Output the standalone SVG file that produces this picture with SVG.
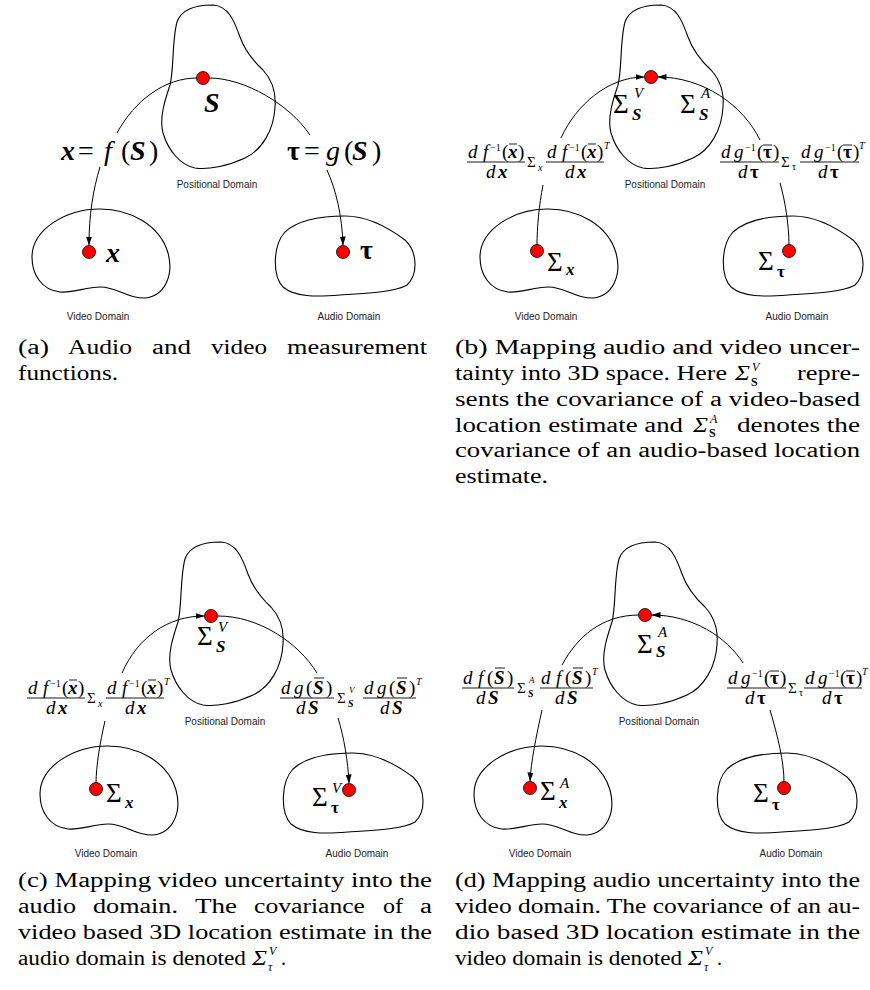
<svg xmlns="http://www.w3.org/2000/svg" xmlns:xlink="http://www.w3.org/1999/xlink" width="870" height="990" viewBox="0 0 870 990">
<style>
.s{font-family:"Liberation Serif","Times New Roman",serif;fill:#000}
.f{font-size:19px}
.sm{font-size:10px}
.sg{font-size:15px}
.big{font-size:27px}
.sup{font-size:15px}
.i{font-style:italic}
.bi{font-style:italic;font-weight:bold}
.b{font-weight:bold}
.n{font-style:normal}
.lbl{font-family:"Liberation Sans",Arial,sans-serif;font-size:10px;fill:#222;text-anchor:middle}
.blob{fill:none;stroke:#000;stroke-width:1.1}
.c{fill:none;stroke:#000;stroke-width:1}
.dot{fill:#ff0000;stroke:#000;stroke-width:0.8}
.fl{stroke:#000;stroke-width:0.9}
.cap{font-family:"Liberation Serif","Times New Roman",serif;font-size:20px;fill:#000}
.cs{font-family:"Liberation Serif","Times New Roman",serif;font-size:12px;fill:#000}
</style>
<defs>
<path id="pos" d="M213,5 C228,6 234,20 240,37 C244,48 250,58 263,70 C274,82 276,95 275,107 C274,130 262,150 245,158 C228,166 208,170 195,168 C180,165 168,150 163,133 C159,118 165,100 170,85 C174,70 172,40 177,22 C181,10 195,5 213,5 Z"/>
<path id="vid" d="M100,209 C130,209 160,225 168,253 C174,275 165,296 145,298 C128,299 118,287 100,287 C85,287 75,293 60,292 C42,290 32,275 32,257 C32,230 65,209 100,209 Z"/>
<path id="aud" d="M345,216 C365,216 385,225 405,240 C418,252 418,275 407,285 C395,292 370,293 340,295 C315,297 295,297 283,287 C272,275 273,245 285,232 C298,220 320,216 345,216 Z"/>
<marker id="ah" markerWidth="9" markerHeight="7" refX="8.5" refY="3.5" orient="auto" markerUnits="userSpaceOnUse"><path d="M0,0.5 L9,3.5 L0,6.5 Z" fill="#000"/></marker>
</defs>

<!-- Panel (a) -->
<g id="panel-a">
 <g id="a-positional">
  <use xlink:href="#pos" href="#pos" class="blob"/>
  <circle class="dot" cx="203" cy="78" r="6.5"/>
  <text class="s bi" font-size="28" x="204" y="112">S</text>
  <text class="lbl" x="217" y="188">Positional Domain</text>
 </g>
 <g id="a-video">
  <use xlink:href="#vid" href="#vid" class="blob"/>
  <circle class="dot" cx="89" cy="252" r="6.5"/>
  <text class="s bi" font-size="28" x="106" y="262">x</text>
  <text class="lbl" x="98" y="320">Video Domain</text>
 </g>
 <g id="a-audio">
  <use xlink:href="#aud" href="#aud" class="blob"/>
  <circle class="dot" cx="343" cy="252" r="6.5"/>
  <text class="s b" font-size="28" x="360" y="259">τ</text>
  <text class="lbl" x="349" y="320">Audio Domain</text>
 </g>
 <g id="a-connectors">
  <path class="c" d="M117,133 C135,100 165,78 197,78"/>
  <path class="c" d="M209,78 C245,78 290,105 310,135"/>
  <path class="c" d="M100,167 C93,190 89,215 89,245" marker-end="url(#ah)"/>
  <path class="c" d="M327,170 C336,190 342,215 343,245" marker-end="url(#ah)"/>
  <text class="s" font-size="28" y="160"><tspan class="bi" x="61">x</tspan><tspan x="78">=</tspan><tspan class="i" x="104">f</tspan><tspan x="121">(</tspan><tspan class="bi" x="130">S</tspan><tspan x="149">)</tspan></text>
  <text class="s" font-size="28" y="160"><tspan class="b" x="287">τ</tspan><tspan x="304">=</tspan><tspan class="i" x="326">g</tspan><tspan x="344">(</tspan><tspan class="bi" x="352">S</tspan><tspan x="372">)</tspan></text>
 </g>
</g>

<!-- Panel (b) -->
<g id="panel-b" transform="translate(448,0)">
 <g id="b-positional">
  <use xlink:href="#pos" href="#pos" class="blob"/>
  <circle class="dot" cx="203" cy="77" r="6.5"/>
  <text class="s"><tspan class="big" x="165" y="113">Σ</tspan><tspan class="i sup" x="186" y="98">V</tspan><tspan class="bi" font-size="17" x="184" y="120">S</tspan></text>
  <text class="s"><tspan class="big" x="232" y="113">Σ</tspan><tspan class="i sup" x="253" y="98">A</tspan><tspan class="bi" font-size="17" x="251" y="120">S</tspan></text>
  <text class="lbl" x="217" y="188">Positional Domain</text>
 </g>
 <g id="b-video">
  <use xlink:href="#vid" href="#vid" class="blob"/>
  <circle class="dot" cx="89" cy="251" r="6.5"/>
  <text class="s"><tspan class="big" x="99" y="271">Σ</tspan><tspan class="bi" font-size="17" x="118" y="275">x</tspan></text>
  <text class="lbl" x="98" y="320">Video Domain</text>
 </g>
 <g id="b-audio">
  <use xlink:href="#aud" href="#aud" class="blob"/>
  <circle class="dot" cx="341" cy="251" r="6.5"/>
  <text class="s"><tspan class="big" x="310" y="270">Σ</tspan><tspan class="b" font-size="17" x="329" y="277">τ</tspan></text>
  <text class="lbl" x="349" y="320">Audio Domain</text>
 </g>
 <g id="b-connectors">
  <path class="c" d="M113,138 C128,105 160,77 196,77" marker-end="url(#ah)"/>
  <path class="c" d="M312,140 C295,105 255,77 210,77" marker-end="url(#ah)"/>
  <path class="c" d="M95,185 C91,205 89,228 89,245"/>
  <path class="c" d="M332,183 C337,200 341,225 341,245"/>
  <text class="s f" y="158"><tspan class="i" x="20">d</tspan><tspan class="i" x="35">f</tspan><tspan class="sm" x="42" y="151">−1</tspan><tspan x="54" y="158">(</tspan><tspan class="bi" x="60">x</tspan><tspan x="70">)</tspan></text>
  <line class="fl" x1="61" y1="144" x2="69" y2="144"/>
  <line class="fl" x1="19" y1="162" x2="77" y2="162"/>
  <text class="s f" y="178"><tspan class="i" x="38">d</tspan><tspan class="bi" x="50">x</tspan></text>
  <text class="s"><tspan class="sg" x="79" y="167">Σ</tspan><tspan class="sm i" x="90" y="171">x</tspan></text>
  <text class="s f" y="158"><tspan class="i" x="99">d</tspan><tspan class="i" x="114">f</tspan><tspan class="sm" x="121" y="151">−1</tspan><tspan x="133" y="158">(</tspan><tspan class="bi" x="139">x</tspan><tspan x="149">)</tspan><tspan class="sm i" x="156" y="149">T</tspan></text>
  <line class="fl" x1="140" y1="144" x2="148" y2="144"/>
  <line class="fl" x1="98" y1="162" x2="156" y2="162"/>
  <text class="s f" y="178"><tspan class="i" x="117">d</tspan><tspan class="bi" x="129">x</tspan></text>
  <text class="s f" y="158"><tspan class="i" x="273">d</tspan><tspan class="i" x="286">g</tspan><tspan class="sm" x="297" y="151">−1</tspan><tspan x="309" y="158">(</tspan><tspan class="b" x="315">τ</tspan><tspan x="325">)</tspan></text>
  <line class="fl" x1="315" y1="145" x2="324" y2="145"/>
  <line class="fl" x1="272" y1="162" x2="331" y2="162"/>
  <text class="s f" y="178"><tspan class="i" x="290">d</tspan><tspan class="b" x="302">τ</tspan></text>
  <text class="s"><tspan class="sg" x="333" y="167">Σ</tspan><tspan class="sm" x="344" y="170">τ</tspan></text>
  <text class="s f" y="158"><tspan class="i" x="353">d</tspan><tspan class="i" x="366">g</tspan><tspan class="sm" x="377" y="151">−1</tspan><tspan x="389" y="158">(</tspan><tspan class="b" x="395">τ</tspan><tspan x="405">)</tspan><tspan class="sm i" x="411" y="149">T</tspan></text>
  <line class="fl" x1="395" y1="145" x2="404" y2="145"/>
  <line class="fl" x1="352" y1="162" x2="411" y2="162"/>
  <text class="s f" y="178"><tspan class="i" x="370">d</tspan><tspan class="b" x="382">τ</tspan></text>
 </g>
</g>

<!-- Panel (c) -->
<g id="panel-c" transform="translate(8,537)">
 <g id="c-positional">
  <use xlink:href="#pos" href="#pos" class="blob"/>
  <circle class="dot" cx="203" cy="79" r="6.5"/>
  <text class="s"><tspan class="big" x="189" y="108">Σ</tspan><tspan class="i sup" x="210" y="95">V</tspan><tspan class="bi" font-size="17" x="208" y="115">S</tspan></text>
  <text class="lbl" x="217" y="188">Positional Domain</text>
 </g>
 <g id="c-video">
  <use xlink:href="#vid" href="#vid" class="blob"/>
  <circle class="dot" cx="88" cy="252" r="6.5"/>
  <text class="s"><tspan class="big" x="98" y="265">Σ</tspan><tspan class="bi" font-size="17" x="117" y="271">x</tspan></text>
  <text class="lbl" x="98" y="320">Video Domain</text>
 </g>
 <g id="c-audio">
  <use xlink:href="#aud" href="#aud" class="blob"/>
  <circle class="dot" cx="341" cy="253" r="6.5"/>
  <text class="s"><tspan class="big" x="304" y="269">Σ</tspan><tspan class="i sup" x="324" y="256">V</tspan><tspan class="b" font-size="17" x="323" y="276">τ</tspan></text>
  <text class="lbl" x="349" y="320">Audio Domain</text>
 </g>
 <g id="c-connectors">
  <path class="c" d="M114,136 C130,100 160,79 196,79" marker-end="url(#ah)"/>
  <path class="c" d="M210,79 C250,79 290,105 309,136"/>
  <path class="c" d="M97,184 C92,205 88,230 88,246"/>
  <path class="c" d="M330,181 C336,200 340,225 341,246" marker-end="url(#ah)"/>
  <text class="s f" y="157"><tspan class="i" x="20">d</tspan><tspan class="i" x="35">f</tspan><tspan class="sm" x="42" y="150">−1</tspan><tspan x="54" y="157">(</tspan><tspan class="bi" x="60">x</tspan><tspan x="70">)</tspan></text>
  <line class="fl" x1="61" y1="143" x2="69" y2="143"/>
  <line class="fl" x1="19" y1="161" x2="77" y2="161"/>
  <text class="s f" y="177"><tspan class="i" x="38">d</tspan><tspan class="bi" x="50">x</tspan></text>
  <text class="s"><tspan class="sg" x="79" y="166">Σ</tspan><tspan class="sm i" x="90" y="170">x</tspan></text>
  <text class="s f" y="157"><tspan class="i" x="99">d</tspan><tspan class="i" x="114">f</tspan><tspan class="sm" x="121" y="150">−1</tspan><tspan x="133" y="157">(</tspan><tspan class="bi" x="139">x</tspan><tspan x="149">)</tspan><tspan class="sm i" x="156" y="148">T</tspan></text>
  <line class="fl" x1="140" y1="143" x2="148" y2="143"/>
  <line class="fl" x1="98" y1="161" x2="156" y2="161"/>
  <text class="s f" y="177"><tspan class="i" x="117">d</tspan><tspan class="bi" x="129">x</tspan></text>
  <text class="s f" y="157"><tspan class="i" x="273">d</tspan><tspan class="i" x="286">g</tspan><tspan x="298">(</tspan><tspan class="bi" x="305">S</tspan><tspan x="318">)</tspan></text>
  <line class="fl" x1="306" y1="141" x2="316" y2="141"/>
  <line class="fl" x1="272" y1="161" x2="326" y2="161"/>
  <text class="s f" y="177"><tspan class="i" x="288">d</tspan><tspan class="bi" x="300">S</tspan></text>
  <text class="s"><tspan class="sg" x="329" y="166">Σ</tspan><tspan class="i" font-size="9" x="341" y="156">V</tspan><tspan class="bi" font-size="10" x="340" y="170">S</tspan></text>
  <text class="s f" y="157"><tspan class="i" x="356">d</tspan><tspan class="i" x="369">g</tspan><tspan x="381">(</tspan><tspan class="bi" x="388">S</tspan><tspan x="401">)</tspan><tspan class="sm i" x="408" y="148">T</tspan></text>
  <line class="fl" x1="389" y1="141" x2="399" y2="141"/>
  <line class="fl" x1="355" y1="161" x2="408" y2="161"/>
  <text class="s f" y="177"><tspan class="i" x="372">d</tspan><tspan class="bi" x="384">S</tspan></text>
 </g>
</g>

<!-- Panel (d) -->
<g id="panel-d" transform="translate(442,537)">
 <g id="d-positional">
  <use xlink:href="#pos" href="#pos" class="blob"/>
  <circle class="dot" cx="203" cy="78" r="6.5"/>
  <text class="s"><tspan class="big" x="195" y="116">Σ</tspan><tspan class="i sup" x="216" y="100">A</tspan><tspan class="bi" font-size="17" x="214" y="120">S</tspan></text>
  <text class="lbl" x="217" y="188">Positional Domain</text>
 </g>
 <g id="d-video">
  <use xlink:href="#vid" href="#vid" class="blob"/>
  <circle class="dot" cx="88" cy="251" r="6.5"/>
  <text class="s"><tspan class="big" x="98" y="263">Σ</tspan><tspan class="i sup" x="118" y="251">A</tspan><tspan class="bi" font-size="17" x="117" y="271">x</tspan></text>
  <text class="lbl" x="98" y="320">Video Domain</text>
 </g>
 <g id="d-audio">
  <use xlink:href="#aud" href="#aud" class="blob"/>
  <circle class="dot" cx="342" cy="251" r="6.5"/>
  <text class="s"><tspan class="big" x="311" y="265">Σ</tspan><tspan class="b" font-size="17" x="330" y="273">τ</tspan></text>
  <text class="lbl" x="349" y="320">Audio Domain</text>
 </g>
 <g id="d-connectors">
  <path class="c" d="M197,78 C160,78 135,100 120,128"/>
  <path class="c" d="M301,126 C285,100 250,78 210,78" marker-end="url(#ah)"/>
  <path class="c" d="M100,173 C94,200 89,225 88,244" marker-end="url(#ah)"/>
  <path class="c" d="M328,173 C336,200 342,225 342,245"/>
  <text class="s f" y="147"><tspan class="i" x="21">d</tspan><tspan class="i" x="36">f</tspan><tspan x="45">(</tspan><tspan class="bi" x="52">S</tspan><tspan x="65">)</tspan></text>
  <line class="fl" x1="53" y1="131" x2="63" y2="131"/>
  <line class="fl" x1="20" y1="151" x2="72" y2="151"/>
  <text class="s f" y="167"><tspan class="i" x="34">d</tspan><tspan class="bi" x="46">S</tspan></text>
  <text class="s"><tspan class="sg" x="75" y="156">Σ</tspan><tspan class="i" font-size="9" x="87" y="146">A</tspan><tspan class="bi" font-size="10" x="86" y="160">S</tspan></text>
  <text class="s f" y="147"><tspan class="i" x="99">d</tspan><tspan class="i" x="114">f</tspan><tspan x="123">(</tspan><tspan class="bi" x="130">S</tspan><tspan x="143">)</tspan><tspan class="sm i" x="150" y="138">T</tspan></text>
  <line class="fl" x1="131" y1="131" x2="141" y2="131"/>
  <line class="fl" x1="98" y1="151" x2="151" y2="151"/>
  <text class="s f" y="167"><tspan class="i" x="113">d</tspan><tspan class="bi" x="125">S</tspan></text>
  <text class="s f" y="147"><tspan class="i" x="286">d</tspan><tspan class="i" x="299">g</tspan><tspan class="sm" x="310" y="140">−1</tspan><tspan x="322" y="147">(</tspan><tspan class="b" x="328">τ</tspan><tspan x="338">)</tspan></text>
  <line class="fl" x1="328" y1="134" x2="337" y2="134"/>
  <line class="fl" x1="285" y1="151" x2="344" y2="151"/>
  <text class="s f" y="167"><tspan class="i" x="303">d</tspan><tspan class="b" x="315">τ</tspan></text>
  <text class="s"><tspan class="sg" x="346" y="156">Σ</tspan><tspan class="sm" x="357" y="159">τ</tspan></text>
  <text class="s f" y="147"><tspan class="i" x="363">d</tspan><tspan class="i" x="376">g</tspan><tspan class="sm" x="387" y="140">−1</tspan><tspan x="398" y="147">(</tspan><tspan class="b" x="404">τ</tspan><tspan x="414">)</tspan><tspan class="sm i" x="420" y="138">T</tspan></text>
  <line class="fl" x1="404" y1="134" x2="413" y2="134"/>
  <line class="fl" x1="362" y1="151" x2="420" y2="151"/>
  <text class="s f" y="167"><tspan class="i" x="380">d</tspan><tspan class="b" x="392">τ</tspan></text>
 </g>
</g>

<!-- Captions -->
<g id="captions">
 <text class="cap" y="354" lengthAdjust="spacingAndGlyphs" x="18" textLength="31">(a)</text>
 <text class="cap" y="354" lengthAdjust="spacingAndGlyphs" x="68" textLength="64">Audio</text>
 <text class="cap" y="354" lengthAdjust="spacingAndGlyphs" x="152" textLength="39">and</text>
 <text class="cap" y="354" lengthAdjust="spacingAndGlyphs" x="211" textLength="56">video</text>
 <text class="cap" y="354" lengthAdjust="spacingAndGlyphs" x="287" textLength="140">measurement</text>
 <text class="cap" y="380" lengthAdjust="spacingAndGlyphs" x="18" textLength="100">functions.</text>

 <text class="cap" y="354" x="455" textLength="405" lengthAdjust="spacingAndGlyphs">(b) Mapping audio and video uncer-</text>
 <text class="cap" y="380" x="455" textLength="272" lengthAdjust="spacingAndGlyphs">tainty into 3D space. Here</text>
 <text class="cap i" x="735" y="380" textLength="15" lengthAdjust="spacingAndGlyphs">Σ</text>
 <text class="cs i" x="752" y="371">V</text>
 <text class="cs b" x="751" y="386">S</text>
 <text class="cap" y="380" x="797" textLength="63" lengthAdjust="spacingAndGlyphs">repre-</text>
 <text class="cap" y="406" x="455" textLength="405" lengthAdjust="spacingAndGlyphs">sents the covariance of a video-based</text>
 <text class="cap" y="432" x="455" textLength="228" lengthAdjust="spacingAndGlyphs">location estimate and</text>
 <text class="cap i" x="693" y="432" textLength="15" lengthAdjust="spacingAndGlyphs">Σ</text>
 <text class="cs i" x="710" y="423">A</text>
 <text class="cs b" x="709" y="437">S</text>
 <text class="cap" y="432" x="737" textLength="123" lengthAdjust="spacingAndGlyphs">denotes the</text>
 <text class="cap" y="457" x="455" textLength="405" lengthAdjust="spacingAndGlyphs">covariance of an audio-based location</text>
 <text class="cap" y="483" x="455" textLength="93" lengthAdjust="spacingAndGlyphs">estimate.</text>

 <text class="cap" y="887" x="18" textLength="414" lengthAdjust="spacingAndGlyphs">(c) Mapping video uncertainty into the</text>
 <text class="cap" y="913" lengthAdjust="spacingAndGlyphs" x="18" textLength="58">audio</text>
 <text class="cap" y="913" lengthAdjust="spacingAndGlyphs" x="93" textLength="85">domain.</text>
 <text class="cap" y="913" lengthAdjust="spacingAndGlyphs" x="195" textLength="42">The</text>
 <text class="cap" y="913" lengthAdjust="spacingAndGlyphs" x="254" textLength="111">covariance</text>
 <text class="cap" y="913" lengthAdjust="spacingAndGlyphs" x="383" textLength="20">of</text>
 <text class="cap" y="913" lengthAdjust="spacingAndGlyphs" x="420" textLength="12">a</text>
 <text class="cap" y="939" x="18" textLength="414" lengthAdjust="spacingAndGlyphs">video based 3D location estimate in the</text>
 <text class="cap" y="965" x="18" textLength="228" lengthAdjust="spacingAndGlyphs">audio domain is denoted</text>
 <text class="cap i" x="252" y="965" textLength="15" lengthAdjust="spacingAndGlyphs">Σ</text>
 <text class="cs i" x="269" y="955">V</text>
 <text class="cs i" x="268" y="971">τ</text>
 <text class="cap" x="281" y="965">.</text>

 <text class="cap" y="887" x="455" textLength="405" lengthAdjust="spacingAndGlyphs">(d) Mapping audio uncertainty into the</text>
 <text class="cap" y="913" x="455" textLength="405" lengthAdjust="spacingAndGlyphs">video domain. The covariance of an au-</text>
 <text class="cap" y="939" x="455" textLength="405" lengthAdjust="spacingAndGlyphs">dio based 3D location estimate in the</text>
 <text class="cap" y="965" x="455" textLength="227" lengthAdjust="spacingAndGlyphs">video domain is denoted</text>
 <text class="cap i" x="688" y="965" textLength="15" lengthAdjust="spacingAndGlyphs">Σ</text>
 <text class="cs i" x="705" y="955">V</text>
 <text class="cs i" x="704" y="971">τ</text>
 <text class="cap" x="717" y="965">.</text>
</g>
</svg>
